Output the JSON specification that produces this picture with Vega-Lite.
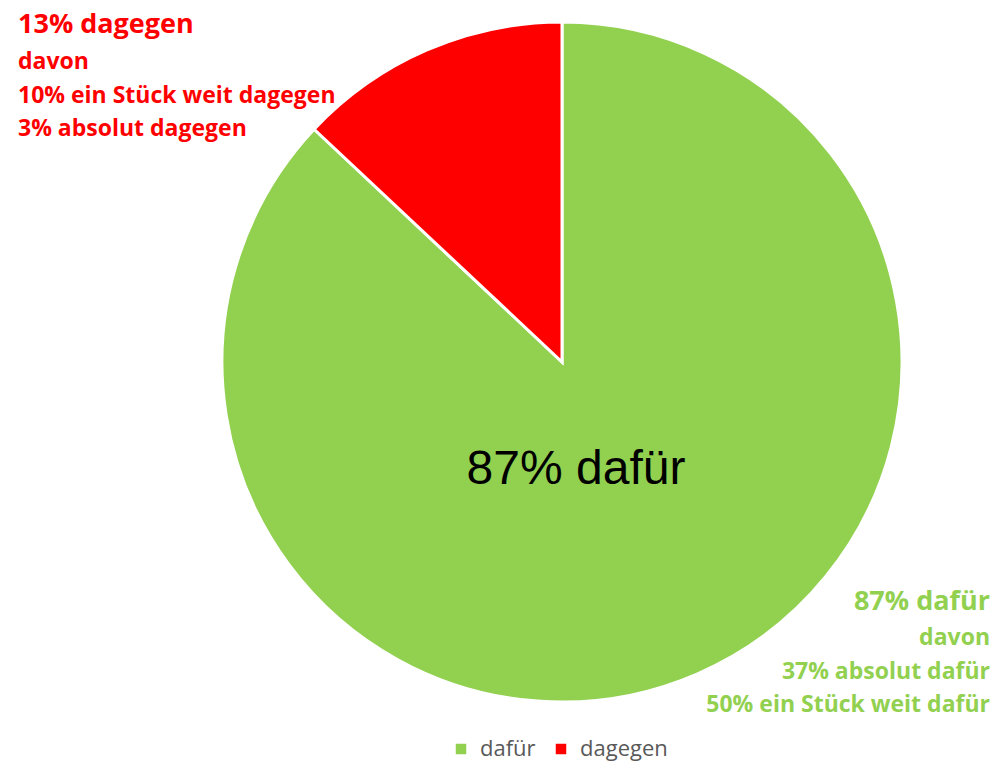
{
  "$schema": "https://vega.github.io/schema/vega-lite/v6.json",
  "width": 680,
  "height": 680,
  "autosize": {"type": "none"},
  "padding": {"left": 222, "top": 22, "right": 102, "bottom": 63},
  "background": "white",
  "config": {"view": {"stroke": null}},
  "layer": [
    {
      "data": {"values": [
        {"Meinung": "dafür", "Anteil": 87, "Reihenfolge": 1},
        {"Meinung": "dagegen", "Anteil": 13, "Reihenfolge": 2}
      ]},
      "mark": {"type": "arc", "stroke": "white", "strokeWidth": 3},
      "encoding": {
        "theta": {"field": "Anteil", "type": "quantitative", "stack": true},
        "order": {"field": "Reihenfolge", "type": "quantitative"},
        "color": {
          "field": "Meinung", "type": "nominal",
          "scale": {"domain": ["dafür", "dagegen"], "range": ["#92D050", "#FF0000"]},
          "legend": {
            "orient": "none", "legendX": 228, "legendY": 716, "direction": "horizontal",
            "title": null, "symbolType": "square", "symbolSize": 110, "symbolStrokeWidth": 0,
            "labelFontSize": 22, "labelColor": "#595959", "labelFont": "Open Sans", "columnPadding": 14, "labelOffset": 8
          }
        }
      }
    },
    {
      "data": {"values": [{"t": "87% dafür"}]},
      "mark": {"type": "text", "x": 354, "y": 448, "align": "center", "baseline": "middle", "font": "Liberation Sans", "fontSize": 48, "color": "black"},
      "encoding": {"text": {"field": "t"}}
    },
    {
      "data": {"values": [{"t": "13% dagegen"}]},
      "mark": {"type": "text", "x": -204, "y": 3, "align": "left", "baseline": "middle", "font": "Open Sans", "fontWeight": "bold", "fontSize": 27, "color": "#FF0000"},
      "encoding": {"text": {"field": "t"}}
    },
    {
      "data": {"values": [{"t": ["davon", "10% ein Stück weit dagegen", "3% absolut dagegen"]}]},
      "mark": {"type": "text", "x": -204, "y": 40, "align": "left", "baseline": "middle", "font": "Open Sans", "fontWeight": "bold", "fontSize": 23, "lineHeight": 33.5, "color": "#FF0000"},
      "encoding": {"text": {"field": "t"}}
    },
    {
      "data": {"values": [{"t": "87% dafür"}]},
      "mark": {"type": "text", "x": 768, "y": 580, "align": "right", "baseline": "middle", "font": "Open Sans", "fontWeight": "bold", "fontSize": 27, "color": "#92D050"},
      "encoding": {"text": {"field": "t"}}
    },
    {
      "data": {"values": [{"t": ["davon", "37% absolut dafür", "50% ein Stück weit dafür"]}]},
      "mark": {"type": "text", "x": 768, "y": 616, "align": "right", "baseline": "middle", "font": "Open Sans", "fontWeight": "bold", "fontSize": 23, "lineHeight": 33.5, "color": "#92D050"},
      "encoding": {"text": {"field": "t"}}
    }
  ]
}
